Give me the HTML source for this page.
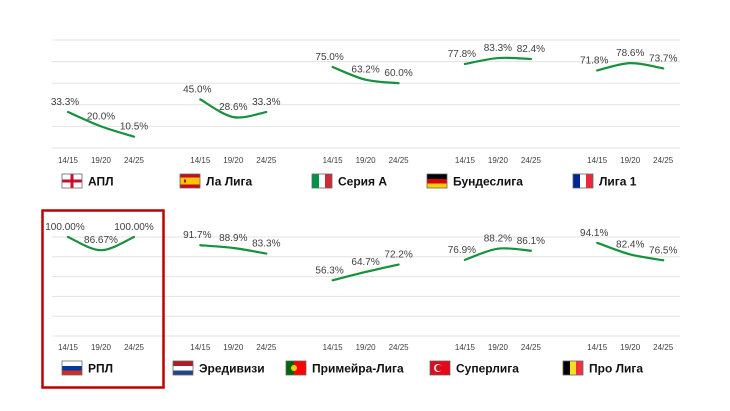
<!DOCTYPE html>
<html><head><meta charset="utf-8"><style>
html,body{margin:0;padding:0;background:#fff;width:730px;height:411px;overflow:hidden}
svg{display:block;font-family:"Liberation Sans","DejaVu Sans",sans-serif}
</style></head><body>
<svg id="c" width="730" height="411"></svg>
<script>
const leagues=["АПЛ","Ла Лига","Серия А","Бундеслига","Лига 1","РПЛ","Эредивизи","Примейра-Лига","Суперлига","Про Лига"];
const seasons=["14/15","19/20","24/25"];
const values=[[33.3,20.0,10.5],[45.0,28.6,33.3],[75.0,63.2,60.0],[77.8,83.3,82.4],[71.8,78.6,73.7],
[100,86.67,100],[91.7,88.9,83.3],[56.3,64.7,72.2],[76.9,88.2,86.1],[94.1,82.4,76.5]];
const labels=[["33.3%","20.0%","10.5%"],["45.0%","28.6%","33.3%"],["75.0%","63.2%","60.0%"],["77.8%","83.3%","82.4%"],["71.8%","78.6%","73.7%"],
["100.00%","86.67%","100.00%"],["91.7%","88.9%","83.3%"],["56.3%","64.7%","72.2%"],["76.9%","88.2%","86.1%"],["94.1%","82.4%","76.5%"]];
const flags=["eng","esp","ita","ger","fra","rus","ned","por","tur","bel"];
const NS="http://www.w3.org/2000/svg";
const svg=document.getElementById('c');
function mk(t,a,p){const e=document.createElementNS(NS,t);for(const k in a)e.setAttribute(k,a[k]);(p||svg).appendChild(e);return e;}
const rows=[{y0:148,y1:40,tick:160,leg:181},{y0:336,y1:237,tick:347,leg:368}];
const flagX=[62,180,312,427,573,62,173,286,430,563];
function xs(panel,i){return 68+panel*132.3+i*33;}
function ys(r,v){return r.y0-(r.y0-r.y1)*v/100;}
rows.forEach((r,ri)=>{for(let g=0;g<=5;g++){const y=ys(r,g*20);
const l=mk('line',{x1:52,x2:680,y1:y,y2:y,stroke:'#e3e3e3','stroke-width':1});

}});
function drawFlag(f,x,y){const g=mk('g',{});


const w=20,h=14;
const R=(a,b,c,d,col)=>mk('rect',{x:x+a,y:y+b,width:c,height:d,fill:col},g);
if(f=='eng'){R(0,0,w,h,'#fff');R(8.5,0,3,h,'#c8102e');R(0,5.5,w,3,'#c8102e');}
if(f=='esp'){R(0,0,w,h,'#c60b1e');R(0,3.5,w,7,'#ffc400');R(4,5.5,2,3,'#ad1519');}
if(f=='ita'){R(0,0,7,h,'#009246');R(7,0,6,h,'#fff');R(13,0,7,h,'#ce2b37');}
if(f=='ger'){R(0,0,w,5,'#000');R(0,5,w,4.5,'#dd0000');R(0,9.5,w,4.5,'#ffce00');}
if(f=='fra'){R(0,0,7,h,'#002395');R(7,0,6,h,'#fff');R(13,0,7,h,'#ed2939');}
if(f=='rus'){R(0,0,w,5,'#fff');R(0,5,w,4.5,'#0039a6');R(0,9.5,w,4.5,'#d52b1e');}
if(f=='ned'){R(0,0,w,5,'#ae1c28');R(0,5,w,4.5,'#fff');R(0,9.5,w,4.5,'#21468b');}
if(f=='por'){R(0,0,8,h,'#006600');R(8,0,12,h,'#ff0000');mk('circle',{cx:x+8,cy:y+7,r:3,fill:'#ffcc00'},g);}
if(f=='tur'){R(0,0,w,h,'#e30a17');mk('circle',{cx:x+8,cy:y+7,r:4,fill:'#fff'},g);mk('circle',{cx:x+9,cy:y+7,r:3.2,fill:'#e30a17'},g);}
if(f=='bel'){R(0,0,7,h,'#000');R(7,0,6,h,'#fdda24');R(13,0,7,h,'#ef3340');}
mk('rect',{x:x,y:y,width:w,height:h,fill:'none',stroke:'#666','stroke-width':0.8},g);}
values.forEach((vals,k)=>{const ri=k<5?0:1,p=k%5,r=rows[ri];
const pts=vals.map((v,i)=>[xs(p,i),ys(r,v)]);
let d='M'+pts[0][0]+','+pts[0][1];
for(let i=0;i<pts.length-1;i++){const p0=pts[Math.max(0,i-1)],p1=pts[i],p2=pts[i+1],p3=pts[Math.min(pts.length-1,i+2)];
const c1=[p1[0]+(p2[0]-p0[0])/6,p1[1]+(p2[1]-p0[1])/6],c2=[p2[0]-(p3[0]-p1[0])/6,p2[1]-(p3[1]-p1[1])/6];
d+=' C'+c1+' '+c2+' '+p2;}
const path=mk('path',{d:d,fill:'none',stroke:'#16913c','stroke-width':2.2,'stroke-linecap':'round'});


pts.forEach((pt,i)=>{const t=mk('text',{x:pt[0]-(i==0?3:0),y:pt[1]-7,'font-size':10,fill:'#404040','text-anchor':'middle'});t.textContent=labels[k][i];

});
seasons.forEach((s,i)=>{const t=mk('text',{x:xs(p,i),y:r.tick+3,'font-size':8,fill:'#404040','text-anchor':'middle'});t.textContent=s;

});
drawFlag(flags[k],flagX[k],r.leg-7);
const t=mk('text',{x:flagX[k]+26,y:r.leg+4.5,'font-size':12,'font-weight':'bold',fill:'#111'});t.textContent=leagues[k];

});
const box=mk('rect',{x:42.5,y:210.5,width:121,height:177,fill:'none',stroke:'#c00000','stroke-width':2.5});


</script>
</body></html>
